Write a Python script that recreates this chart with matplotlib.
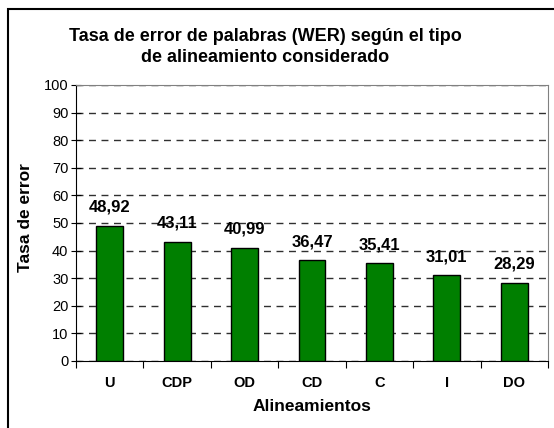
import matplotlib
matplotlib.use("Agg")
import matplotlib.pyplot as plt
from matplotlib.patches import Rectangle

plt.rcParams['font.family'] = ['Liberation Sans', 'DejaVu Sans']

# data
alineamientos = ['U', 'CDP', 'OD', 'CD', 'C', 'I', 'DO']
wer = [48.92, 43.11, 40.99, 36.47, 35.41, 31.01, 28.29]

W, H = 554, 428
fig = plt.figure(figsize=(W/100, H/100), dpi=100)
ax = fig.add_axes([76/W, 1 - 361/H, (548-76)/W, (361-85)/H])

x = list(range(len(alineamientos)))
ax.bar(x, wer, width=0.4, color='#007F00', edgecolor='black', linewidth=1, zorder=3)

for xi, v in zip(x, wer):
    ax.annotate(f"{v:.2f}".replace('.', ','), (xi, v), xytext=(0, 8),
                textcoords='offset points', ha='center', va='bottom',
                fontsize=12, fontweight='bold')

ax.set_xlim(-0.5, len(alineamientos) - 0.5)
ax.set_ylim(0, 100)
ax.set_yticks(range(0, 101, 10))
ax.yaxis.grid(True, color='#303030', linestyle=(0, (5, 4)), linewidth=1, zorder=0)
ax.tick_params(axis='y', direction='inout', length=7, labelsize=10.5, pad=2)

# x ticks between categories, labels centered
ax.set_xticks([i + 0.5 for i in range(-1, len(alineamientos))])
ax.set_xticklabels([])
ax.set_xticks(x, minor=True)
ax.set_xticklabels(alineamientos, minor=True, fontweight='bold', fontsize=10.5)
ax.tick_params(axis='x', which='major', direction='out', length=5)
ax.tick_params(axis='x', which='minor', length=0, pad=11)

for s in ['top', 'right']:
    ax.spines[s].set_color('#808080')
for s in ['left', 'bottom']:
    ax.spines[s].set_color('black')

ax.set_ylabel('Tasa de error', fontweight='bold', fontsize=12.5)
ax.yaxis.set_label_coords((33 - 76) / (548 - 76), 0.52)
ax.set_xlabel('Alineamientos', fontweight='bold', fontsize=12.5, labelpad=6)

fig.text(265/W, 1 - 47/H, 'Tasa de error de palabras (WER) según el tipo\nde alineamiento considerado',
         ha='center', va='center', fontsize=13, fontweight='bold', linespacing=1.35)

fig.patches.append(Rectangle((8/W, -0.1), 1.2, 1.1 - 9/H, transform=fig.transFigure,
                             fill=False, edgecolor='black', linewidth=1.5, clip_on=False))

fig.savefig('out.png', dpi=100)
